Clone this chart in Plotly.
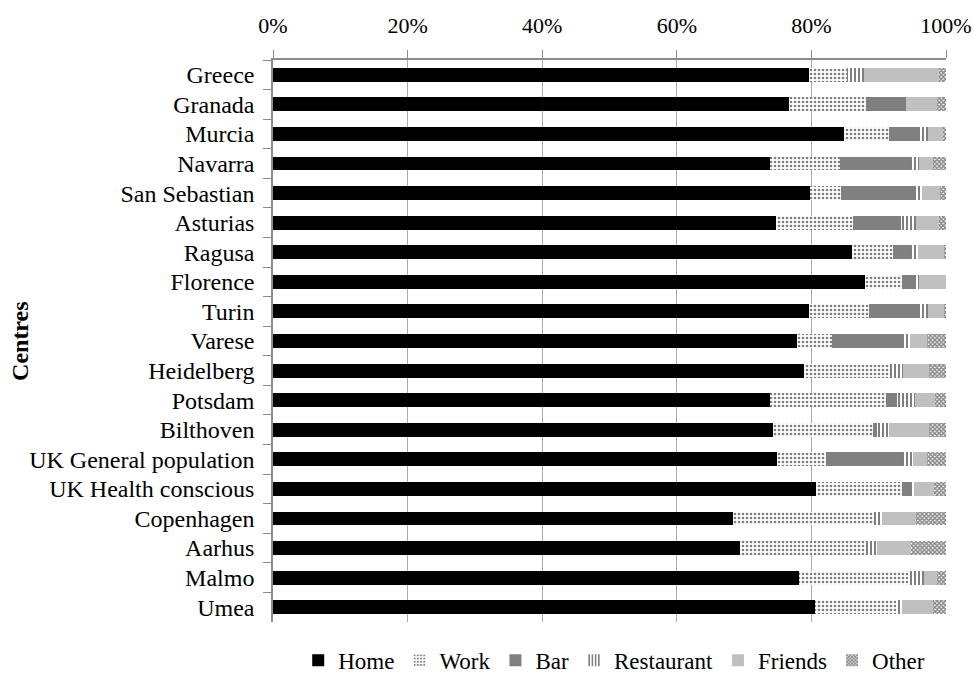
import plotly.graph_objects as go

centres = ["Greece", "Granada", "Murcia", "Navarra", "San Sebastian", "Asturias",
           "Ragusa", "Florence", "Turin", "Varese", "Heidelberg", "Potsdam",
           "Bilthoven", "UK General population", "UK Health conscious",
           "Copenhagen", "Aarhus", "Malmo", "Umea"]

home = [79.6, 76.6, 84.8, 73.9, 79.8, 74.7, 86.0, 88.0, 79.6, 77.9, 78.9, 73.8,
        74.3, 74.9, 80.7, 68.4, 69.4, 78.2, 80.6]
work = [5.7, 11.5, 6.7, 10.3, 4.6, 11.5, 6.1, 5.4, 9.0, 5.2, 12.8, 17.3,
        14.8, 7.2, 12.8, 20.9, 18.7, 16.2, 12.0]
bar = [0.0, 5.9, 4.7, 10.5, 10.8, 7.1, 2.5, 1.8, 7.5, 10.6, 0.0, 1.6,
       0.6, 11.4, 1.1, 0.0, 0.0, 0.0, 0.0]
restaurant = [2.5, 0.0, 1.1, 1.3, 1.3, 2.3, 1.3, 0.8, 1.2, 0.9, 1.9, 2.7,
              1.9, 1.6, 0.7, 1.2, 1.6, 2.4, 0.8]
friends = [11.1, 4.7, 2.3, 2.0, 2.6, 3.3, 3.9, 4.0, 2.4, 2.6, 3.9, 2.9,
           5.9, 2.1, 2.9, 5.1, 5.1, 1.8, 4.6]
other = [1.1, 1.3, 0.4, 2.0, 0.9, 1.1, 0.2, 0.0, 0.3, 2.8, 2.5, 1.7,
         2.5, 2.8, 1.8, 4.4, 5.2, 1.4, 2.0]

tick_vals = [0, 20, 40, 60, 80, 100]
tick_text = ["0%", "20%", "40%", "60%", "80%", "100%"]

FONT = "Liberation Serif"

series = [
    ("Home", home, dict(color="black")),
    ("Work", work, dict(color="white", pattern=dict(shape=".", fgcolor="black", bgcolor="white", size=4, solidity=0.35))),
    ("Bar", bar, dict(color="#808080")),
    ("Restaurant", restaurant, dict(color="white", pattern=dict(shape="|", fgcolor="black", bgcolor="white", size=4, solidity=0.5))),
    ("Friends", friends, dict(color="#c0c0c0")),
    ("Other", other, dict(color="white", pattern=dict(shape="x", fgcolor="#101010", bgcolor="white", size=3, solidity=0.7))),
]

fig = go.Figure()
for name, vals, marker in series:
    marker = dict(marker)
    marker["line"] = dict(width=0)
    fig.add_trace(go.Bar(name=name, y=centres, x=vals, orientation="h", marker=marker))

fig.update_layout(
    barmode="stack",
    bargap=0.53,
    width=974,
    height=675,
    paper_bgcolor="white",
    plot_bgcolor="white",
    font=dict(family=FONT, size=24, color="black"),
    margin=dict(l=273, r=28, t=60, b=53, autoexpand=False),
    showlegend=True,
    legend=dict(orientation="h", x=0.507, xanchor="center", y=-0.068, yanchor="middle",
                font=dict(family=FONT, size=23), traceorder="normal",
                itemwidth=30, tracegroupgap=0),
    xaxis=dict(side="top", range=[0, 100], tickvals=tick_vals, ticktext=tick_text,
               tickfont=dict(size=22),
               showgrid=True, gridcolor="#ababab", gridwidth=1,
               showline=True, linecolor="#8c8c8c", linewidth=1.5,
               ticks="outside", ticklen=8, tickcolor="#8c8c8c",
               ticklabelstandoff=8,
               zeroline=False, fixedrange=True),
    yaxis=dict(categoryorder="array", categoryarray=centres, autorange="reversed",
               showline=True, linecolor="#8c8c8c", linewidth=1.5,
               ticks="outside", ticklen=8, tickcolor="#8c8c8c", tickson="boundaries",
               ticklabelstandoff=12,
               showgrid=False),
    annotations=[dict(text="<b>Centres</b>", textangle=-90, xref="paper", yref="paper",
                      x=-0.376, y=0.5, xanchor="center", yanchor="middle",
                      showarrow=False, font=dict(family=FONT, size=24))],
)

fig.write_html("out.html", config={"displayModeBar": False},
               post_script="document.body.style.margin='0';document.body.style.padding='0';")
